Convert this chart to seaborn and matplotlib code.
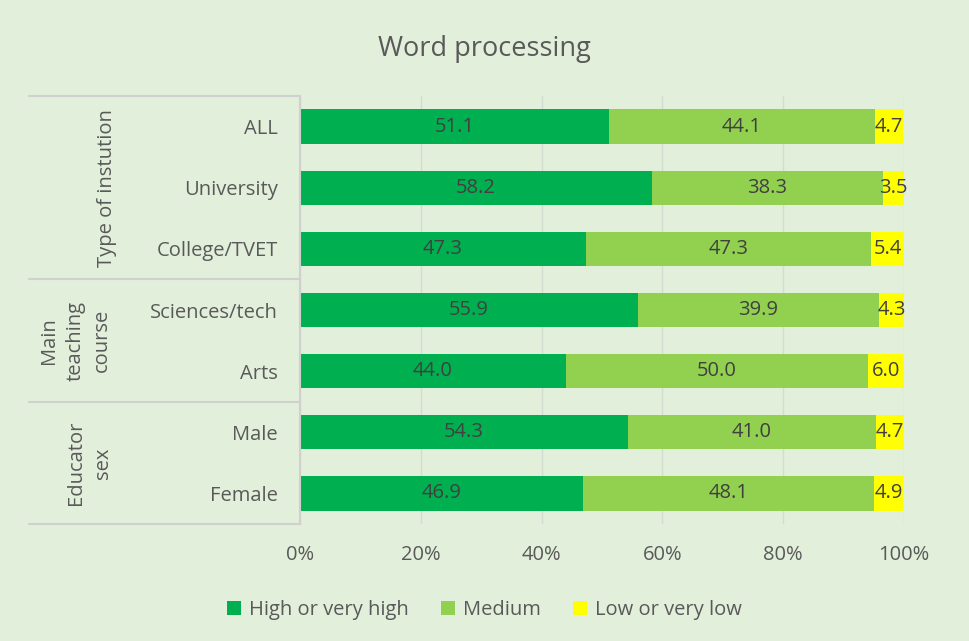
import pandas as pd
import matplotlib.pyplot as plt
import seaborn as sns

# values
categories = ['ALL', 'University', 'College/TVET', 'Sciences/tech', 'Arts', 'Male', 'Female']
high = [51.1, 58.2, 47.3, 55.9, 44.0, 54.3, 46.9]
medium = [44.1, 38.3, 47.3, 39.9, 50.0, 41.0, 48.1]
low = [4.7, 3.5, 5.4, 4.3, 6.0, 4.7, 4.9]
series_names = ['High or very high', 'Medium', 'Low or very low']
group_names = ['Type of instution', 'Main\nteaching\ncourse', 'Educator\nsex']
group_sizes = [3, 2, 2]

colors = ['#00B050', '#92D050', '#FFFF00']
bg = '#E2EFDA'
text_col = '#595959'
fs = 14.5

df = pd.DataFrame({'cat': categories, 'high': high, 'medium': medium, 'low': low})
df['cum_med'] = df['high'] + df['medium']
df['cum_low'] = df['cum_med'] + df['low']

sns.set_style('white')
plt.rcParams['font.family'] = ['Open Sans', 'DejaVu Sans']

fig = plt.figure(figsize=(9.69, 6.41), dpi=100, facecolor=bg)
ax = fig.add_axes([0.3096, 0.1825, 0.6233, 0.6677])
ax.set_facecolor(bg)

# stacked bars drawn as cumulative totals, back to front
for col, c, name in zip(['cum_low', 'cum_med', 'high'], colors[::-1], series_names[::-1]):
    sns.barplot(data=df, x=col, y='cat', color=c, width=0.56, ax=ax,
                saturation=1, label=name, zorder=2, linewidth=0)

ax.set_xlim(0, 100)
ax.set_ylim(len(categories) - 0.5, -0.5)
ax.set_xticks([0, 20, 40, 60, 80, 100])
ax.set_xticklabels(['0%', '20%', '40%', '60%', '80%', '100%'])
ax.grid(axis='x', color='#D4DBD0', linewidth=1, zorder=0)
ax.set_axisbelow(True)
ax.set_xlabel('')
ax.set_ylabel('')
for s in ['top', 'right', 'bottom']:
    ax.spines[s].set_visible(False)
ax.spines['left'].set_color('#D0D0D0')
ax.spines['left'].set_linewidth(1.5)
ax.tick_params(axis='both', length=0, colors=text_col, labelsize=fs)
ax.tick_params(axis='y', pad=16)
ax.tick_params(axis='x', pad=15)

# segment labels
for i in range(len(categories)):
    starts = [0, high[i], high[i] + medium[i]]
    for v, s0 in zip([high[i], medium[i], low[i]], starts):
        ax.text(s0 + v / 2, i, f'{v:.1f}', ha='center', va='center',
                fontsize=fs, color='#404040', zorder=5)

# group brackets on the left
x0 = -0.4487
bounds = [0]
for n in group_sizes:
    bounds.append(bounds[-1] + n)
for b in bounds:
    ax.plot([x0, 0], [1 - b / len(categories)] * 2, transform=ax.transAxes,
            color='#D0D0D0', linewidth=1.5, clip_on=False)
group_x = [-0.3195, -0.372, -0.348]
for name, xg, a, b in zip(group_names, group_x, bounds[:-1], bounds[1:]):
    yc = 1 - (a + b) / 2 / len(categories)
    ax.text(xg, yc, name, transform=ax.transAxes, rotation=90, ha='center',
            va='center', fontsize=fs, color=text_col, linespacing=1.45)

fig.suptitle('Word processing', y=0.945, fontsize=19.5, color=text_col)

handles, labels = ax.get_legend_handles_labels()
order = [labels.index(n) for n in series_names]
ax.legend([handles[k] for k in order], series_names, loc='lower center',
          bbox_to_anchor=(0.5, 0.004), bbox_transform=fig.transFigure,
          ncol=3, frameon=False, fontsize=fs, handlelength=0.7, handleheight=0.7,
          handletextpad=0.4, columnspacing=1.6, labelcolor=text_col)

fig.savefig('out.png', dpi=100, facecolor=bg)
